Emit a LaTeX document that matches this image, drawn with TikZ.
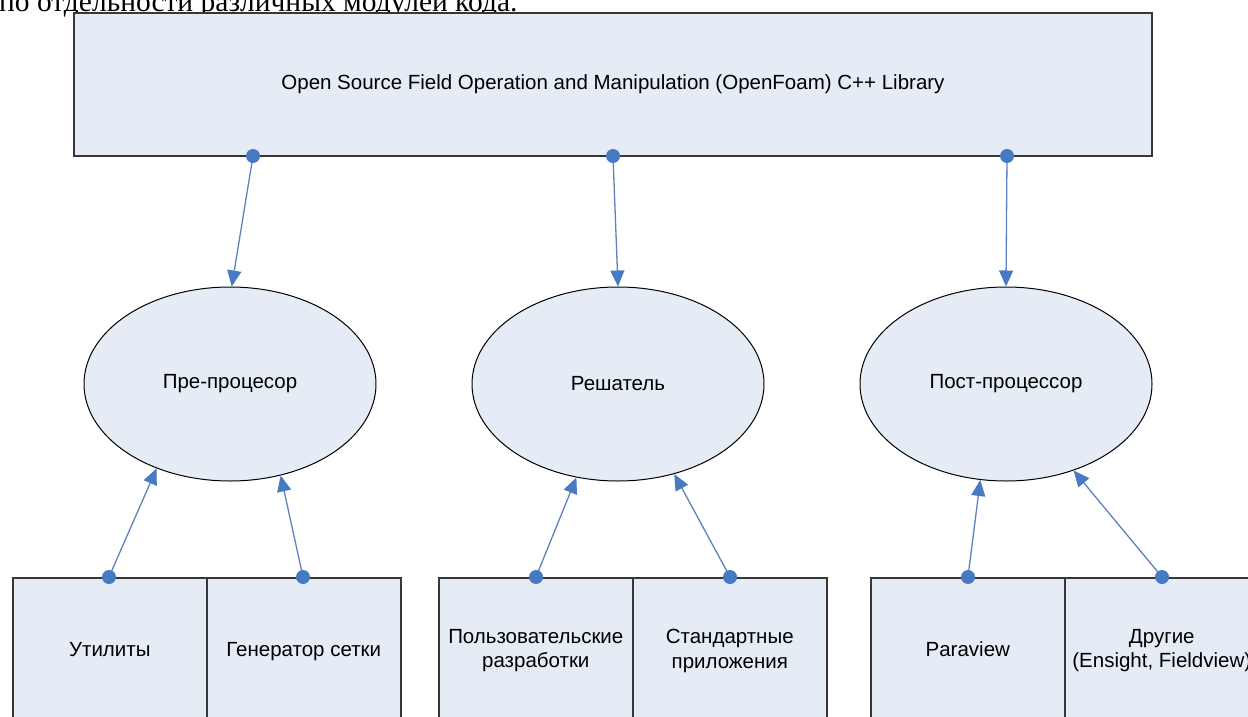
\documentclass[tikz,border=0pt]{standalone}
\usepackage{fontspec}
\setmainfont{Liberation Sans}
\newfontfamily\capfont{Liberation Serif}
\usetikzlibrary{shapes.geometric,arrows.meta}
\definecolor{boxfill}{RGB}{230,236,246}
\definecolor{linkblue}{RGB}{70,122,194}
\definecolor{linkline}{RGB}{95,130,188}
\definecolor{boxedge}{RGB}{55,55,55}
\tikzset{
  txt/.style={font=\fontsize{20.5}{24.5}\selectfont},
  topbox/.style={txt,draw=boxedge,line width=1.6pt,fill=boxfill,minimum width=1078pt,minimum height=143pt,inner sep=0pt},
  ell/.style={txt,ellipse,draw=black,line width=1pt,fill=boxfill,minimum width=292pt,minimum height=194pt,inner sep=0pt},
  subbox/.style={txt,draw=boxedge,line width=1.6pt,fill=boxfill,minimum width=194pt,minimum height=146pt,inner sep=0pt,align=center},
  onebox/.style={subbox,text height=15pt,text depth=4.5pt},
  dot/.style={circle,fill=linkblue,minimum size=14pt,inner sep=0pt},
  conn/.style={draw=linkline,line width=1.3pt,-{Triangle[length=16pt,width=14pt,color=linkblue]}}
}
\begin{document}
\begin{tikzpicture}[x=1pt,y=-1pt]
\useasboundingbox (0,0) rectangle (1248,717);
\clip (0,0) rectangle (1248,717);
\node[anchor=base west,inner sep=0pt,font=\capfont\fontsize{29.5}{34}\selectfont] (cap) at (-1,12) {по отдельности различных модулей кода.};
\node[topbox] (lib) at (613,84.5) {Open Source Field Operation and Manipulation (OpenFoam) C++ Library};
\node[ell] (pre) at (230,384) {Пре-процесор};
\node[ell] (sol) at (618,384) {Решатель};
\node[ell] (post) at (1006,384) {Пост-процессор};
\node[onebox,anchor=north west] (b1) at (12,577) {Утилиты};
\node[onebox,anchor=north west] (b2) at (206,577) {Генератор сетки};
\node[subbox,anchor=north west] (b3) at (438,577) {Пользовательские\\разработки};
\node[subbox,anchor=north west] (b4) at (632,577) {Стандартные\\приложения};
\node[onebox,anchor=north west] (b5) at (870,577) {Paraview};
\node[subbox,anchor=north west] (b6) at (1064,577) {Другие\\(Ensight, Fieldview)};
\coordinate (t1) at (253,156);
\coordinate (t2) at (613,156);
\coordinate (t3) at (1007,156);
\coordinate (u1) at (109,577);
\coordinate (u2) at (303,577);
\coordinate (u3) at (536,577);
\coordinate (u4) at (730,577);
\coordinate (u5) at (968,577);
\coordinate (u6) at (1162,577);
\draw[conn] (t1) -- (pre.89);
\draw[conn] (t2) -- (sol.90);
\draw[conn] (t3) -- (post.90);
\draw[conn] (u1) -- (pre.229);
\draw[conn] (u2) -- (pre.299);
\draw[conn] (u3) -- (sol.246);
\draw[conn] (u4) -- (sol.302);
\draw[conn] (u5) -- (post.255);
\draw[conn] (u6) -- (post.308);
\foreach \p in {t1,t2,t3,u1,u2,u3,u4,u5,u6} \node[dot] (d\p) at (\p) {};
\end{tikzpicture}
\end{document}
